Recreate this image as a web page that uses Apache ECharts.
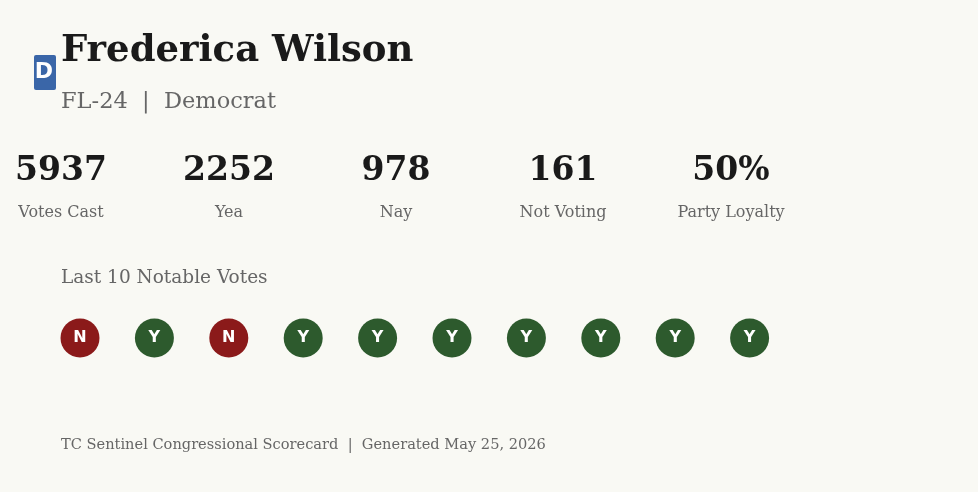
<!DOCTYPE html><html><head><meta charset="utf-8">
<script src="https://cdn.jsdelivr.net/npm/echarts@6/dist/echarts.min.js"></script>
<style>html,body{margin:0;padding:0;background:#f9f9f4}#c{width:978px;height:492px}</style></head>
<body><div id="c"></div><script>
const statValues=['5937','2252','978','161','50%'];
const statLabels=['Votes Cast','Yea','Nay','Not Voting','Party Loyalty'];
const statX=[61,229,396,563,731];
const voteIndex=['1','2','3','4','5','6','7','8','9','10'];
const votes=['N','Y','N','Y','Y','Y','Y','Y','Y','Y'];
const serif='"DejaVu Serif", serif';
const g=[
 {type:'rect',shape:{x:34,y:55,width:22,height:35,r:2},style:{fill:'#3a66a8'}},
 {type:'text',x:44,y:72,style:{text:'D',fill:'#fff',font:'bold 22px "DejaVu Sans"',align:'center',verticalAlign:'middle'}},
 {type:'text',x:61,y:51,style:{text:'Frederica Wilson',fill:'#1a1a1a',font:'bold 37px '+serif,verticalAlign:'middle'}},
 {type:'text',x:61,y:102,style:{text:'FL-24  |  Democrat',fill:'#666',font:'22.5px '+serif,verticalAlign:'middle'}},
 {type:'text',x:61,y:278,style:{text:'Last 10 Notable Votes',fill:'#666',font:'18.5px '+serif,verticalAlign:'middle'}},
 {type:'text',x:61,y:445,style:{text:'TC Sentinel Congressional Scorecard  |  Generated May 25, 2026',fill:'#666',font:'14.6px '+serif,verticalAlign:'middle'}}
];
statValues.forEach((v,i)=>{
 g.push({type:'text',x:statX[i],y:171,style:{text:v,fill:'#1a1a1a',font:'bold 33px '+serif,align:'center',verticalAlign:'middle'}});
 g.push({type:'text',x:statX[i],y:213,style:{text:statLabels[i],fill:'#666',font:'16px '+serif,align:'center',verticalAlign:'middle'}});
});
const chart=echarts.init(document.getElementById('c'));
chart.setOption({backgroundColor:'#f9f9f4',animation:false,graphic:g,
 grid:{left:42.8,width:744,top:300,height:76},
 xAxis:{type:'category',data:voteIndex,show:false},
 yAxis:{type:'value',min:0,max:1,show:false},
 series:[{type:'scatter',symbolSize:39,itemStyle:{opacity:1},emphasis:{disabled:true},
  data:votes.map((v,i)=>({value:[i,0.5],itemStyle:{color:v==='N'?'#8b1a1a':'#2d5a2d',opacity:1},label:{formatter:v}})),
  label:{show:true,position:'inside',color:'#fff',fontFamily:'"DejaVu Sans"',fontWeight:'bold',fontSize:16}}]
});
</script></body></html>
